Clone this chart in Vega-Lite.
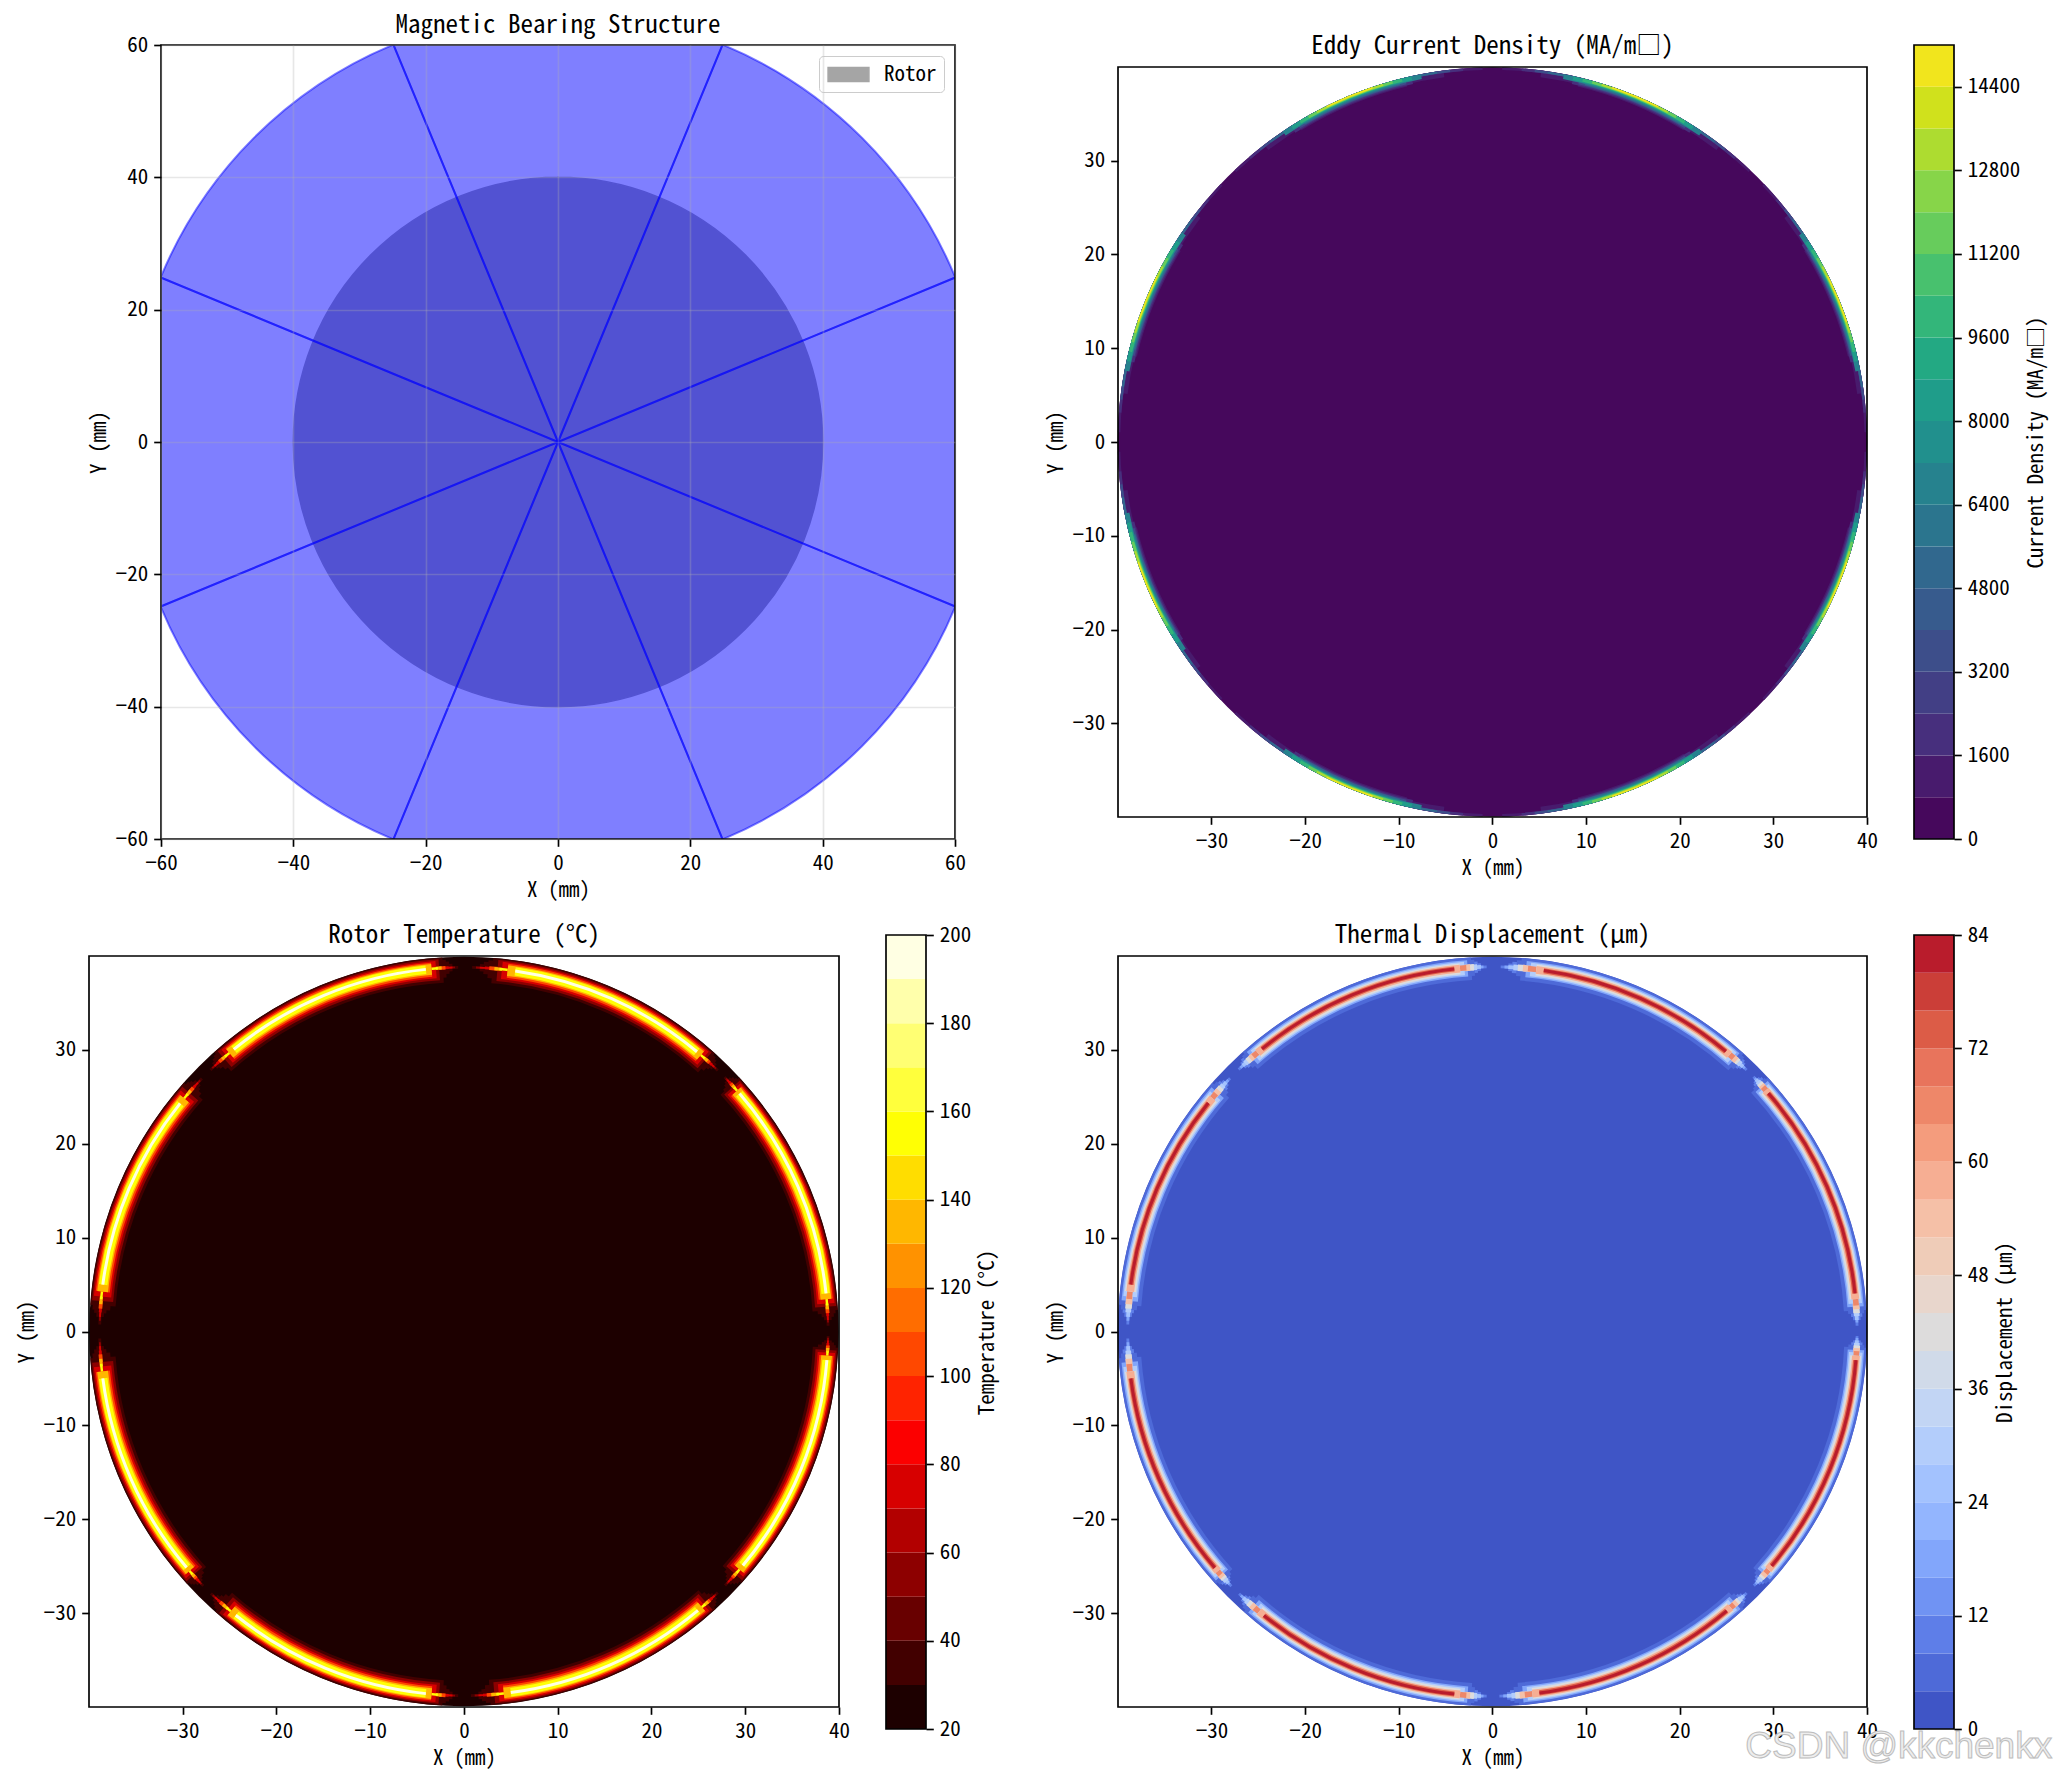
{"$schema":"https://vega.github.io/schema/vega-lite/v6.json","padding":{"left":16,"top":13,"right":0,"bottom":0},"background":"white",
"config":{"font":"Noto Sans Mono CJK SC, Liberation Mono","view":{"stroke":null},"title":{"fontSize":25,"fontWeight":"normal","color":"black","offset":11},
"axis":{"grid":false,"domain":false,"tickColor":"black","tickWidth":1.67,"tickSize":7.3,"labelFontSize":21,"labelColor":"black","labelPadding":6,"labelOverlap":false,"labelFlush":false,"titleFontSize":21,"titleFontWeight":"normal","titleColor":"black","titlePadding":6}},
"datasets":{
"sectors":[
{"l":0,"a":1.3,"b":44.2},{"l":1,"a":2.5,"b":43.4},{"l":2,"a":1.9,"b":43.8},{"l":3,"a":3.1,"b":43},{"l":4,"a":2.5,"b":43.4},{"l":5,"a":3.8,"b":42.6},{"l":6,"a":3.3,"b":42.9},{"l":7,"a":4.5,"b":42.1},{"l":8,"a":4,"b":42.4},{"l":9,"a":5.3,"b":41.6},{"l":10,"a":4.8,"b":42},{"l":11,"a":6,"b":41.2},{"l":12,"a":5.6,"b":41.4},{"l":13,"a":6.9,"b":40.6},{"l":14,"a":6.9,"b":40.6},{"l":15,"a":8.1,"b":39.8},{"l":16,"a":8.1,"b":39.8},
{"l":0,"a":45.7,"b":89.1},{"l":1,"a":46.3,"b":88.2},{"l":2,"a":46,"b":88.6},{"l":3,"a":46.6,"b":87.7},{"l":4,"a":46.3,"b":88.2},{"l":5,"a":47,"b":87.2},{"l":6,"a":46.7,"b":87.6},{"l":7,"a":47.3,"b":86.7},{"l":8,"a":47.1,"b":87.1},{"l":9,"a":47.7,"b":86.1},{"l":10,"a":47.5,"b":86.5},{"l":11,"a":48.1,"b":85.6},{"l":12,"a":47.9,"b":85.9},{"l":13,"a":48.6,"b":84.9},{"l":14,"a":48.6,"b":84.9},{"l":15,"a":49.2,"b":84},{"l":16,"a":49.2,"b":84},
{"l":0,"a":90.7,"b":134.2},{"l":1,"a":91.4,"b":133.5},{"l":2,"a":91,"b":133.8},{"l":3,"a":91.7,"b":133.1},{"l":4,"a":91.4,"b":133.5},{"l":5,"a":92.1,"b":132.7},{"l":6,"a":91.8,"b":133},{"l":7,"a":92.5,"b":132.2},{"l":8,"a":92.2,"b":132.5},{"l":9,"a":92.9,"b":131.8},{"l":10,"a":92.6,"b":132.1},{"l":11,"a":93.3,"b":131.3},{"l":12,"a":93.1,"b":131.5},{"l":13,"a":93.8,"b":130.8},{"l":14,"a":93.8,"b":130.8},{"l":15,"a":94.5,"b":130},{"l":16,"a":94.5,"b":130},
{"l":0,"a":135.8,"b":178.9},{"l":1,"a":136.5,"b":177.7},{"l":2,"a":136.2,"b":178.3},{"l":3,"a":136.9,"b":177.2},{"l":4,"a":136.5,"b":177.7},{"l":5,"a":137.3,"b":176.6},{"l":6,"a":137,"b":177},{"l":7,"a":137.8,"b":175.9},{"l":8,"a":137.5,"b":176.4},{"l":9,"a":138.2,"b":175.2},{"l":10,"a":137.9,"b":175.7},{"l":11,"a":138.7,"b":174.5},{"l":12,"a":138.5,"b":174.9},{"l":13,"a":139.2,"b":173.7},{"l":14,"a":139.2,"b":173.7},{"l":15,"a":140,"b":172.6},{"l":16,"a":140,"b":172.6},
{"l":0,"a":180.9,"b":224},{"l":1,"a":181.8,"b":223.1},{"l":2,"a":181.4,"b":223.6},{"l":3,"a":182.3,"b":222.6},{"l":4,"a":181.8,"b":223.1},{"l":5,"a":182.8,"b":222.2},{"l":6,"a":182.4,"b":222.5},{"l":7,"a":183.3,"b":221.6},{"l":8,"a":182.9,"b":222},{"l":9,"a":183.9,"b":221},{"l":10,"a":183.5,"b":221.4},{"l":11,"a":184.4,"b":220.4},{"l":12,"a":184.1,"b":220.7},{"l":13,"a":185.1,"b":219.8},{"l":14,"a":185.1,"b":219.8},{"l":15,"a":186,"b":218.8},{"l":16,"a":186,"b":218.8},
{"l":0,"a":225.7,"b":268.9},{"l":1,"a":226.4,"b":267.7},{"l":2,"a":226.1,"b":268.3},{"l":3,"a":226.8,"b":267.2},{"l":4,"a":226.4,"b":267.7},{"l":5,"a":227.1,"b":266.6},{"l":6,"a":226.8,"b":267},{"l":7,"a":227.6,"b":265.9},{"l":8,"a":227.3,"b":266.4},{"l":9,"a":228,"b":265.2},{"l":10,"a":227.7,"b":265.7},{"l":11,"a":228.4,"b":264.5},{"l":12,"a":228.2,"b":264.9},{"l":13,"a":228.9,"b":263.7},{"l":14,"a":228.9,"b":263.7},{"l":15,"a":229.6,"b":262.6},{"l":16,"a":229.6,"b":262.6},
{"l":0,"a":271.1,"b":314},{"l":1,"a":272.3,"b":313.1},{"l":2,"a":271.7,"b":313.6},{"l":3,"a":272.9,"b":312.6},{"l":4,"a":272.3,"b":313.1},{"l":5,"a":273.4,"b":312.2},{"l":6,"a":273,"b":312.5},{"l":7,"a":274.1,"b":311.6},{"l":8,"a":273.6,"b":312},{"l":9,"a":274.8,"b":311},{"l":10,"a":274.3,"b":311.4},{"l":11,"a":275.5,"b":310.4},{"l":12,"a":275.1,"b":310.7},{"l":13,"a":276.3,"b":309.8},{"l":14,"a":276.3,"b":309.8},{"l":15,"a":277.4,"b":308.8},{"l":16,"a":277.4,"b":308.8},
{"l":0,"a":315.9,"b":359.1},{"l":1,"a":316.8,"b":358.2},{"l":2,"a":316.3,"b":358.6},{"l":3,"a":317.2,"b":357.7},{"l":4,"a":316.8,"b":358.2},{"l":5,"a":317.7,"b":357.2},{"l":6,"a":317.3,"b":357.6},{"l":7,"a":318.2,"b":356.7},{"l":8,"a":317.8,"b":357.1},{"l":9,"a":318.7,"b":356.1},{"l":10,"a":318.4,"b":356.5},{"l":11,"a":319.3,"b":355.6},{"l":12,"a":319,"b":355.9},{"l":13,"a":319.9,"b":354.9},{"l":14,"a":319.9,"b":354.9},{"l":15,"a":320.8,"b":354},{"l":16,"a":320.8,"b":354}],
"sectorsEddy":[
{"l":0,"a":1.5,"b":43.5},{"l":0,"a":46.5,"b":88.5},{"l":0,"a":91.5,"b":133.5},{"l":0,"a":136.5,"b":178.5},{"l":0,"a":181.5,"b":223.5},{"l":0,"a":226.5,"b":268.5},{"l":0,"a":271.5,"b":313.5},{"l":0,"a":316.5,"b":358.5},
{"l":1,"a":7.5,"b":37.5},{"l":1,"a":52.5,"b":82.5},{"l":1,"a":97.5,"b":127.5},{"l":1,"a":142.5,"b":172.5},{"l":1,"a":187.5,"b":217.5},{"l":1,"a":232.5,"b":262.5},{"l":1,"a":277.5,"b":307.5},{"l":1,"a":322.5,"b":352.5},
{"l":2,"a":13.5,"b":31.5},{"l":2,"a":58.5,"b":76.5},{"l":2,"a":103.5,"b":121.5},{"l":2,"a":148.5,"b":166.5},{"l":2,"a":193.5,"b":211.5},{"l":2,"a":238.5,"b":256.5},{"l":2,"a":283.5,"b":301.5},{"l":2,"a":328.5,"b":346.5},
{"l":3,"a":4.5,"b":40.5},{"l":3,"a":49.5,"b":85.5},{"l":3,"a":94.5,"b":130.5},{"l":3,"a":139.5,"b":175.5},{"l":3,"a":184.5,"b":220.5},{"l":3,"a":229.5,"b":265.5},{"l":3,"a":274.5,"b":310.5},{"l":3,"a":319.5,"b":355.5},
{"l":4,"a":12.5,"b":32.5},{"l":4,"a":57.5,"b":77.5},{"l":4,"a":102.5,"b":122.5},{"l":4,"a":147.5,"b":167.5},{"l":4,"a":192.5,"b":212.5},{"l":4,"a":237.5,"b":257.5},{"l":4,"a":282.5,"b":302.5},{"l":4,"a":327.5,"b":347.5},
{"l":5,"a":6.5,"b":38.5},{"l":5,"a":51.5,"b":83.5},{"l":5,"a":96.5,"b":128.5},{"l":5,"a":141.5,"b":173.5},{"l":5,"a":186.5,"b":218.5},{"l":5,"a":231.5,"b":263.5},{"l":5,"a":276.5,"b":308.5},{"l":5,"a":321.5,"b":353.5},
{"l":6,"a":13.5,"b":31.5},{"l":6,"a":58.5,"b":76.5},{"l":6,"a":103.5,"b":121.5},{"l":6,"a":148.5,"b":166.5},{"l":6,"a":193.5,"b":211.5},{"l":6,"a":238.5,"b":256.5},{"l":6,"a":283.5,"b":301.5},{"l":6,"a":328.5,"b":346.5},
{"l":7,"a":8.5,"b":36.5},{"l":7,"a":53.5,"b":81.5},{"l":7,"a":98.5,"b":126.5},{"l":7,"a":143.5,"b":171.5},{"l":7,"a":188.5,"b":216.5},{"l":7,"a":233.5,"b":261.5},{"l":7,"a":278.5,"b":306.5},{"l":7,"a":323.5,"b":351.5},
{"l":8,"a":14.5,"b":30.5},{"l":8,"a":59.5,"b":75.5},{"l":8,"a":104.5,"b":120.5},{"l":8,"a":149.5,"b":165.5},{"l":8,"a":194.5,"b":210.5},{"l":8,"a":239.5,"b":255.5},{"l":8,"a":284.5,"b":300.5},{"l":8,"a":329.5,"b":345.5},
{"l":9,"a":11,"b":34},{"l":9,"a":56,"b":79},{"l":9,"a":101,"b":124},{"l":9,"a":146,"b":169},{"l":9,"a":191,"b":214},{"l":9,"a":236,"b":259},{"l":9,"a":281,"b":304},{"l":9,"a":326,"b":349},
{"l":10,"a":12.5,"b":32.5},{"l":10,"a":57.5,"b":77.5},{"l":10,"a":102.5,"b":122.5},{"l":10,"a":147.5,"b":167.5},{"l":10,"a":192.5,"b":212.5},{"l":10,"a":237.5,"b":257.5},{"l":10,"a":282.5,"b":302.5},{"l":10,"a":327.5,"b":347.5},
{"l":11,"a":14,"b":31},{"l":11,"a":59,"b":76},{"l":11,"a":104,"b":121},{"l":11,"a":149,"b":166},{"l":11,"a":194,"b":211},{"l":11,"a":239,"b":256},{"l":11,"a":284,"b":301},{"l":11,"a":329,"b":346},
{"l":12,"a":15.5,"b":29.5},{"l":12,"a":60.5,"b":74.5},{"l":12,"a":105.5,"b":119.5},{"l":12,"a":150.5,"b":164.5},{"l":12,"a":195.5,"b":209.5},{"l":12,"a":240.5,"b":254.5},{"l":12,"a":285.5,"b":299.5},{"l":12,"a":330.5,"b":344.5},
{"l":13,"a":17,"b":28},{"l":13,"a":62,"b":73},{"l":13,"a":107,"b":118},{"l":13,"a":152,"b":163},{"l":13,"a":197,"b":208},{"l":13,"a":242,"b":253},{"l":13,"a":287,"b":298},{"l":13,"a":332,"b":343},
{"l":14,"a":18.7,"b":26.3},{"l":14,"a":63.7,"b":71.3},{"l":14,"a":108.7,"b":116.3},{"l":14,"a":153.7,"b":161.3},{"l":14,"a":198.7,"b":206.3},{"l":14,"a":243.7,"b":251.3},{"l":14,"a":288.7,"b":296.3},{"l":14,"a":333.7,"b":341.3}],
"ringEddy":[{"l":0,"v":800,"r0":39.7,"r1":39.97},{"l":1,"v":800,"r0":39.25,"r1":39.97},{"l":2,"v":800,"r0":39,"r1":39.97},{"l":3,"v":1600,"r0":39.7,"r1":39.97},{"l":4,"v":1600,"r0":39.12,"r1":39.97},{"l":5,"v":3200,"r0":39.72,"r1":39.97},{"l":6,"v":3200,"r0":39.25,"r1":39.97},{"l":7,"v":4800,"r0":39.75,"r1":39.97},{"l":8,"v":4800,"r0":39.33,"r1":39.97},{"l":9,"v":6400,"r0":39.45,"r1":39.97},{"l":10,"v":8000,"r0":39.55,"r1":39.97},{"l":11,"v":9600,"r0":39.62,"r1":39.97},{"l":12,"v":11200,"r0":39.68,"r1":39.97},{"l":13,"v":12800,"r0":39.75,"r1":39.97},{"l":14,"v":14400,"r0":39.82,"r1":39.97}],
"ringTemp":[{"l":0,"v":30,"r0":38.7,"r1":39},{"l":1,"v":30,"r0":38.45,"r1":39.25},{"l":2,"v":50,"r0":38.75,"r1":38.95},{"l":3,"v":30,"r0":38.2,"r1":39.5},{"l":4,"v":70,"r0":38.75,"r1":38.95},{"l":5,"v":30,"r0":37.8,"r1":39.7},{"l":6,"v":70,"r0":38.7,"r1":39},{"l":7,"v":30,"r0":37.25,"r1":39.95},{"l":8,"v":100,"r0":38.65,"r1":39.05},{"l":9,"v":50,"r0":37.55,"r1":39.8},{"l":10,"v":130,"r0":38.68,"r1":39.02},{"l":11,"v":70,"r0":37.8,"r1":39.65},{"l":12,"v":150,"r0":38.72,"r1":38.98},{"l":13,"v":100,"r0":38,"r1":39.5},{"l":14,"v":130,"r0":38.2,"r1":39.35},{"l":15,"v":150,"r0":38.35,"r1":39.25},{"l":16,"v":190,"r0":38.68,"r1":39}],
"ringDisp":[{"l":0,"v":8,"r0":38.75,"r1":39.05},{"l":1,"v":8,"r0":38.5,"r1":39.3},{"l":2,"v":16,"r0":38.75,"r1":39.05},{"l":3,"v":8,"r0":38.3,"r1":39.5},{"l":4,"v":24,"r0":38.7,"r1":39.1},{"l":5,"v":4,"r0":38,"r1":39.7},{"l":6,"v":28,"r0":38.6,"r1":39.2},{"l":7,"v":4,"r0":37.55,"r1":39.95},{"l":8,"v":40,"r0":38.55,"r1":39.25},{"l":9,"v":16,"r0":37.95,"r1":39.7},{"l":10,"v":52,"r0":38.55,"r1":39.25},{"l":11,"v":28,"r0":38.1,"r1":39.55},{"l":12,"v":64,"r0":38.6,"r1":39.2},{"l":13,"v":40,"r0":38.25,"r1":39.42},{"l":14,"v":56,"r0":38.45,"r1":39.28},{"l":15,"v":72,"r0":38.6,"r1":39.15},{"l":16,"v":80,"r0":38.73,"r1":39.05}],
"barEddy":[{"lo":0,"hi":800},{"lo":800,"hi":1600},{"lo":1600,"hi":2400},{"lo":2400,"hi":3200},{"lo":3200,"hi":4000},{"lo":4000,"hi":4800},{"lo":4800,"hi":5600},{"lo":5600,"hi":6400},{"lo":6400,"hi":7200},{"lo":7200,"hi":8000},{"lo":8000,"hi":8800},{"lo":8800,"hi":9600},{"lo":9600,"hi":10400},{"lo":10400,"hi":11200},{"lo":11200,"hi":12000},{"lo":12000,"hi":12800},{"lo":12800,"hi":13600},{"lo":13600,"hi":14400},{"lo":14400,"hi":15200}],
"barTemp":[{"lo":20,"hi":30},{"lo":30,"hi":40},{"lo":40,"hi":50},{"lo":50,"hi":60},{"lo":60,"hi":70},{"lo":70,"hi":80},{"lo":80,"hi":90},{"lo":90,"hi":100},{"lo":100,"hi":110},{"lo":110,"hi":120},{"lo":120,"hi":130},{"lo":130,"hi":140},{"lo":140,"hi":150},{"lo":150,"hi":160},{"lo":160,"hi":170},{"lo":170,"hi":180},{"lo":180,"hi":190},{"lo":190,"hi":200}],
"barDisp":[{"lo":0,"hi":4},{"lo":4,"hi":8},{"lo":8,"hi":12},{"lo":12,"hi":16},{"lo":16,"hi":20},{"lo":20,"hi":24},{"lo":24,"hi":28},{"lo":28,"hi":32},{"lo":32,"hi":36},{"lo":36,"hi":40},{"lo":40,"hi":44},{"lo":44,"hi":48},{"lo":48,"hi":52},{"lo":52,"hi":56},{"lo":56,"hi":60},{"lo":60,"hi":64},{"lo":64,"hi":68},{"lo":68,"hi":72},{"lo":72,"hi":76},{"lo":76,"hi":80},{"lo":80,"hi":84}],
"gap":[{}],"frameP":[{"x0":-39.98,"x1":40,"y0":-39.98,"y1":39.98}]},
"spacing":22,"bounds":"full","align":"none",
"resolve":{"scale":{"color":"independent","theta":"independent","radius":"independent","x":"independent","y":"independent"},"legend":{"color":"independent"}},
"vconcat":[
{"spacing":0,"bounds":"flush","align":"none","resolve":{"scale":{"color":"independent","theta":"independent","radius":"independent","x":"independent","y":"independent"},"legend":{"color":"independent"}},"hconcat":[
{"width":72,"height":10,"data":{"name":"gap"},"mark":{"type":"rule","opacity":0},"encoding":{}},
{"title":{"text":"Magnetic Bearing Structure","offset":-4},"width":794,"height":794,"layer":[
{"data":{"values":[{"part":"Rotor","r0":0,"r1":40,"a":0,"b":360}]},"mark":{"type":"arc","opacity":0.7,"stroke":"#808080","strokeWidth":1.5},"encoding":{
"x":{"datum":0,"type":"quantitative","scale":{"domain":[-60,60],"nice":false,"zero":false},"axis":{"values":[-60,-40,-20,0,20,40,60],"title":"X (mm)","grid":true,"gridColor":"#b0b0b0","gridOpacity":0.3,"gridWidth":1.67,"zindex":1}},
"y":{"datum":0,"type":"quantitative","scale":{"domain":[-60,60],"nice":false,"zero":false},"axis":{"values":[-60,-40,-20,0,20,40,60],"title":"Y (mm)","grid":true,"gridColor":"#b0b0b0","gridOpacity":0.3,"gridWidth":1.67,"zindex":1}},
"theta":{"field":"a","type":"quantitative","stack":null,"scale":{"domain":[0,360],"range":[0,6.283185]}},"theta2":{"field":"b"},
"radius":{"field":"r1","type":"quantitative","scale":{"type":"linear","domain":[0,60],"range":[0,397]}},"radius2":{"field":"r0"},
"color":{"field":"part","type":"nominal","scale":{"domain":["Rotor"],"range":["#808080"]},"legend":{"title":null,"orient":"top-right","offset":11,"fillColor":"white","strokeColor":"#cccccc","cornerRadius":4,"padding":7,"labelFontSize":21,"labelColor":"black","symbolType":"M-1.9,-0.65H1.9V0.65H-1.9Z","symbolSize":462,"symbolOpacity":0.7,"symbolStrokeColor":"#808080","symbolOffset":11,"labelOffset":24}}}},
{"data":{"values":[{"r0":0,"r1":65,"a":22.5,"b":67.5},{"r0":0,"r1":65,"a":67.5,"b":112.5},{"r0":0,"r1":65,"a":112.5,"b":157.5},{"r0":0,"r1":65,"a":157.5,"b":202.5},{"r0":0,"r1":65,"a":202.5,"b":247.5},{"r0":0,"r1":65,"a":247.5,"b":292.5},{"r0":0,"r1":65,"a":292.5,"b":337.5},{"r0":0,"r1":65,"a":337.5,"b":382.5}]},"mark":{"type":"arc","clip":true,"fill":"blue","fillOpacity":0.5,"stroke":"blue","strokeOpacity":0.5,"strokeWidth":2},"encoding":{
"x":{"datum":0,"type":"quantitative","axis":{"values":[-60,-40,-20,0,20,40,60],"title":"X (mm)","grid":true,"gridColor":"#b0b0b0","gridOpacity":0.3,"gridWidth":1.67,"zindex":1}},"y":{"datum":0,"type":"quantitative","axis":{"values":[-60,-40,-20,0,20,40,60],"title":"Y (mm)","grid":true,"gridColor":"#b0b0b0","gridOpacity":0.3,"gridWidth":1.67,"zindex":1}},
"theta":{"field":"a","type":"quantitative","stack":null},"theta2":{"field":"b"},"radius":{"field":"r1","type":"quantitative"},"radius2":{"field":"r0"}}},
{"data":{"values":[{"x0":-60,"x1":60,"y0":-60,"y1":60}]},"mark":{"type":"rect","filled":false,"stroke":"black","strokeWidth":1.67},"encoding":{"x":{"field":"x0","type":"quantitative","axis":{"values":[-60,-40,-20,0,20,40,60],"title":"X (mm)","grid":true,"gridColor":"#b0b0b0","gridOpacity":0.3,"gridWidth":1.67,"zindex":1}},"x2":{"field":"x1"},"y":{"field":"y0","type":"quantitative","axis":{"values":[-60,-40,-20,0,20,40,60],"title":"Y (mm)","grid":true,"gridColor":"#b0b0b0","gridOpacity":0.3,"gridWidth":1.67,"zindex":1}},"y2":{"field":"y1"}}}]},
{"width":163,"height":10,"data":{"name":"gap"},"mark":{"type":"rule","opacity":0},"encoding":{}},
{"title":{"text":"Eddy Current Density (MA/m□)","offset":-14},"width":749,"height":794,
"layer":[
{"encoding":{"x":{"datum":0,"type":"quantitative","scale":{"domain":[-39.98,40],"nice":false,"zero":false},"axis":{"values":[-30,-20,-10,0,10,20,30,40],"title":"X (mm)","offset":-22}},
"y":{"datum":0,"type":"quantitative","scale":{"domain":[-39.98,39.98],"nice":false,"zero":false,"range":[772,22]},"axis":{"values":[-30,-20,-10,0,10,20,30],"title":"Y (mm)"}},
"theta":{"field":"a","type":"quantitative","stack":null,"scale":{"domain":[0,360],"range":[0,6.283185]}},"theta2":{"field":"b"},
"radius":{"field":"r1","type":"quantitative","scale":{"type":"linear","domain":[0,40],"range":[0,375]}},"radius2":{"field":"r0"},
"color":{"field":"v","type":"ordinal","legend":null,"scale":{"domain":[0,800,1600,2400,3200,4000,4800,5600,6400,7200,8000,8800,9600,10400,11200,12000,12800,13600,14400],"range":["#46085c","#481b6d","#472f7d","#423f85","#3d4e8a","#375b8d","#31688e","#2b758e","#26828e","#21908d","#1f9d8a","#23a983","#33b67a","#48c16e","#67cc5c","#87d549","#addc30","#d0e11c","#f1e51d"]}}},
"layer":[{"data":{"values":[{"v":0,"r0":0,"r1":39.97,"a":0,"b":360}]},"mark":"arc"},
{"data":{"name":"sectorsEddy"},"transform":[{"lookup":"l","from":{"data":{"name":"ringEddy"},"key":"l","fields":["v","r0","r1"]}}],"mark":"arc"}]},
{"data":{"name":"frameP"},"mark":{"type":"rect","filled":false,"stroke":"black","strokeWidth":1.67},"encoding":{"x":{"field":"x0","type":"quantitative","axis":{"values":[-30,-20,-10,0,10,20,30,40],"title":"X (mm)","offset":-22}},"x2":{"field":"x1"},"y":{"field":"y0","type":"quantitative","axis":{"values":[-30,-20,-10,0,10,20,30],"title":"Y (mm)"}},"y2":{"field":"y1"}}}]},
{"width":47,"height":10,"data":{"name":"gap"},"mark":{"type":"rule","opacity":0},"encoding":{}},
{"width":40,"height":794,"layer":[
{"data":{"name":"barEddy"},"mark":"rect","encoding":{"y":{"field":"lo","type":"quantitative","scale":{"domain":[0,15200],"nice":false,"zero":false},"axis":{"orient":"right","format":"d","values":[0,1600,3200,4800,6400,8000,9600,11200,12800,14400],"title":"Current Density (MA/m□)","titleAngle":270,"titleBaseline":"top"}},"y2":{"field":"hi"},"color":{"field":"lo","type":"ordinal","legend":null,"scale":{"domain":[0,800,1600,2400,3200,4000,4800,5600,6400,7200,8000,8800,9600,10400,11200,12000,12800,13600,14400],"range":["#46085c","#481b6d","#472f7d","#423f85","#3d4e8a","#375b8d","#31688e","#2b758e","#26828e","#21908d","#1f9d8a","#23a983","#33b67a","#48c16e","#67cc5c","#87d549","#addc30","#d0e11c","#f1e51d"]}}}},
{"data":{"values":[{"lo":0,"hi":15200}]},"mark":{"type":"rect","filled":false,"stroke":"black","strokeWidth":1.67},"encoding":{"y":{"field":"lo","type":"quantitative","axis":{"orient":"right","format":"d","values":[0,1600,3200,4800,6400,8000,9600,11200,12800,14400],"title":"Current Density (MA/m□)","titleAngle":270,"titleBaseline":"top"}},"y2":{"field":"hi"}}}]}
]},
{"spacing":0,"bounds":"flush","align":"none","resolve":{"scale":{"color":"independent","theta":"independent","radius":"independent","x":"independent","y":"independent"},"legend":{"color":"independent"}},"hconcat":[
{"title":{"text":"Rotor Temperature (°C)","offset":-13},"width":750,"height":794,
"layer":[
{"encoding":{"x":{"datum":0,"type":"quantitative","scale":{"domain":[-39.98,40],"nice":false,"zero":false},"axis":{"values":[-30,-20,-10,0,10,20,30,40],"title":"X (mm)","offset":-22}},
"y":{"datum":0,"type":"quantitative","scale":{"domain":[-39.98,39.98],"nice":false,"zero":false,"range":[772,21]},"axis":{"values":[-30,-20,-10,0,10,20,30],"title":"Y (mm)"}},
"theta":{"field":"a","type":"quantitative","stack":null,"scale":{"domain":[0,360],"range":[0,6.283185]}},"theta2":{"field":"b"},
"radius":{"field":"r1","type":"quantitative","scale":{"type":"linear","domain":[0,40],"range":[0,375]}},"radius2":{"field":"r0"},
"color":{"field":"v","type":"ordinal","legend":null,"scale":{"domain":[20,30,40,50,60,70,80,90,100,110,120,130,140,150,160,170,180,190],"range":["#1d0000","#420000","#680000","#8d0000","#b20000","#d70000","#fc0000","#ff2300","#ff4800","#ff6d00","#ff9200","#ffb700","#ffdd00","#ffff04","#ffff3c","#ffff73","#ffffab","#ffffe3"]}}},
"layer":[{"data":{"values":[{"v":20,"r0":0,"r1":39.97,"a":0,"b":360}]},"mark":"arc"},
{"data":{"name":"sectors"},"transform":[{"lookup":"l","from":{"data":{"name":"ringTemp"},"key":"l","fields":["v","r0","r1"]}}],"mark":"arc"}]},
{"data":{"name":"frameP"},"mark":{"type":"rect","filled":false,"stroke":"black","strokeWidth":1.67},"encoding":{"x":{"field":"x0","type":"quantitative","axis":{"values":[-30,-20,-10,0,10,20,30,40],"title":"X (mm)","offset":-22}},"x2":{"field":"x1"},"y":{"field":"y0","type":"quantitative","axis":{"values":[-30,-20,-10,0,10,20,30],"title":"Y (mm)"}},"y2":{"field":"y1"}}}]},
{"width":47,"height":10,"data":{"name":"gap"},"mark":{"type":"rule","opacity":0},"encoding":{}},
{"width":40,"height":794,"layer":[
{"data":{"name":"barTemp"},"mark":"rect","encoding":{"y":{"field":"lo","type":"quantitative","scale":{"domain":[20,200],"nice":false,"zero":false},"axis":{"orient":"right","values":[20,40,60,80,100,120,140,160,180,200],"title":"Temperature (°C)","titleAngle":270,"titleBaseline":"top"}},"y2":{"field":"hi"},"color":{"field":"lo","type":"ordinal","legend":null,"scale":{"domain":[20,30,40,50,60,70,80,90,100,110,120,130,140,150,160,170,180,190],"range":["#1d0000","#420000","#680000","#8d0000","#b20000","#d70000","#fc0000","#ff2300","#ff4800","#ff6d00","#ff9200","#ffb700","#ffdd00","#ffff04","#ffff3c","#ffff73","#ffffab","#ffffe3"]}}}},
{"data":{"values":[{"lo":20,"hi":200}]},"mark":{"type":"rect","filled":false,"stroke":"black","strokeWidth":1.67},"encoding":{"y":{"field":"lo","type":"quantitative","axis":{"orient":"right","values":[20,40,60,80,100,120,140,160,180,200],"title":"Temperature (°C)","titleAngle":270,"titleBaseline":"top"}},"y2":{"field":"hi"}}}]},
{"width":192,"height":10,"data":{"name":"gap"},"mark":{"type":"rule","opacity":0},"encoding":{}},
{"title":{"text":"Thermal Displacement (μm)","offset":-13},"width":749,"height":794,
"layer":[
{"encoding":{"x":{"datum":0,"type":"quantitative","scale":{"domain":[-39.98,40],"nice":false,"zero":false},"axis":{"values":[-30,-20,-10,0,10,20,30,40],"title":"X (mm)","offset":-22}},
"y":{"datum":0,"type":"quantitative","scale":{"domain":[-39.98,39.98],"nice":false,"zero":false,"range":[772,21]},"axis":{"values":[-30,-20,-10,0,10,20,30],"title":"Y (mm)"}},
"theta":{"field":"a","type":"quantitative","stack":null,"scale":{"domain":[0,360],"range":[0,6.283185]}},"theta2":{"field":"b"},
"radius":{"field":"r1","type":"quantitative","scale":{"type":"linear","domain":[0,40],"range":[0,375]}},"radius2":{"field":"r0"},
"color":{"field":"v","type":"ordinal","legend":null,"scale":{"domain":[0,4,8,12,16,20,24,28,32,36,40,44,48,52,56,60,64,68,72,76,80],"range":["#3f55c6","#4e6ad8","#5e7ee8","#7093f3","#82a6fb","#93b5fe","#a3c2fe","#b3cdfb","#c2d5f4","#d0dae9","#dddcdc","#e8d6cc","#efccb8","#f5c0a7","#f6ae93","#f49c7d","#ee8769","#e8745c","#dc5c47","#cb3e38","#b91c2c"]}}},
"layer":[{"data":{"values":[{"v":0,"r0":0,"r1":39.97,"a":0,"b":360}]},"mark":"arc"},
{"data":{"name":"sectors"},"transform":[{"lookup":"l","from":{"data":{"name":"ringDisp"},"key":"l","fields":["v","r0","r1"]}}],"mark":"arc"}]},
{"data":{"name":"frameP"},"mark":{"type":"rect","filled":false,"stroke":"black","strokeWidth":1.67},"encoding":{"x":{"field":"x0","type":"quantitative","axis":{"values":[-30,-20,-10,0,10,20,30,40],"title":"X (mm)","offset":-22}},"x2":{"field":"x1"},"y":{"field":"y0","type":"quantitative","axis":{"values":[-30,-20,-10,0,10,20,30],"title":"Y (mm)"}},"y2":{"field":"y1"}}},
{"data":{"values":[{"x":27,"y":-44.2,"t":"CSDN @kkchenkx"}]},"mark":{"type":"text","align":"left","baseline":"middle","font":"Liberation Sans","fontSize":37,"fill":"#ededed","stroke":"#bdbdbd","strokeWidth":1},"encoding":{"x":{"field":"x","type":"quantitative","axis":{"values":[-30,-20,-10,0,10,20,30,40],"title":"X (mm)","offset":-22}},"y":{"field":"y","type":"quantitative","axis":{"values":[-30,-20,-10,0,10,20,30],"title":"Y (mm)"}},"text":{"field":"t"}}}]},
{"width":47,"height":10,"data":{"name":"gap"},"mark":{"type":"rule","opacity":0},"encoding":{}},
{"width":40,"height":794,"layer":[
{"data":{"name":"barDisp"},"mark":"rect","encoding":{"y":{"field":"lo","type":"quantitative","scale":{"domain":[0,84],"nice":false,"zero":false},"axis":{"orient":"right","values":[0,12,24,36,48,60,72,84],"title":"Displacement (μm)","titleAngle":270,"titleBaseline":"top"}},"y2":{"field":"hi"},"color":{"field":"lo","type":"ordinal","legend":null,"scale":{"domain":[0,4,8,12,16,20,24,28,32,36,40,44,48,52,56,60,64,68,72,76,80],"range":["#3f55c6","#4e6ad8","#5e7ee8","#7093f3","#82a6fb","#93b5fe","#a3c2fe","#b3cdfb","#c2d5f4","#d0dae9","#dddcdc","#e8d6cc","#efccb8","#f5c0a7","#f6ae93","#f49c7d","#ee8769","#e8745c","#dc5c47","#cb3e38","#b91c2c"]}}}},
{"data":{"values":[{"lo":0,"hi":84}]},"mark":{"type":"rect","filled":false,"stroke":"black","strokeWidth":1.67},"encoding":{"y":{"field":"lo","type":"quantitative","axis":{"orient":"right","values":[0,12,24,36,48,60,72,84],"title":"Displacement (μm)","titleAngle":270,"titleBaseline":"top"}},"y2":{"field":"hi"}}}]}
]}
]}
